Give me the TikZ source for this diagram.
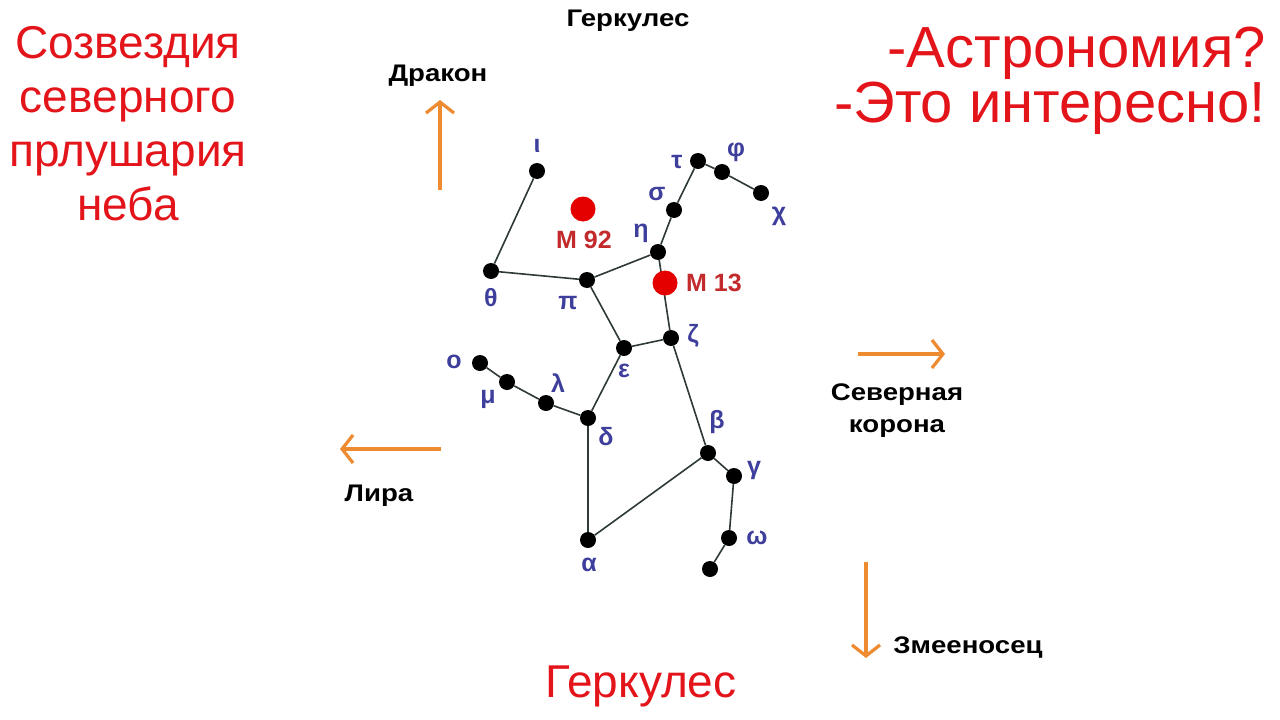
\documentclass[tikz,border=0pt]{standalone}
\usepackage{fontspec}
\usepackage{graphicx}
\setmainfont{Liberation Sans}
\usetikzlibrary{arrows.meta}
\definecolor{txtred}{HTML}{E3151B}
\definecolor{mred}{HTML}{C22A2C}
\definecolor{greek}{HTML}{3E3E9C}
\definecolor{orng}{HTML}{EE8A30}
\definecolor{edgec}{HTML}{2E3A34}
\newcommand\wx[1]{\scalebox{1.15}[1]{#1}}
\tikzset{
  star/.style={circle,fill=black,inner sep=0pt,minimum size=16pt},
  cluster/.style={circle,fill=red!90!black,inner sep=0pt,minimum size=25pt},
  glabel/.style={text=greek,font=\fontsize{25}{27}\selectfont\bfseries,inner sep=0pt},
  mlabel/.style={text=mred,font=\fontsize{25}{27}\selectfont\bfseries,inner sep=0pt},
  blabel/.style={text=black,font=\fontsize{24}{32}\selectfont\bfseries,inner sep=0pt,align=center},
  bigred/.style={text=txtred,font=\fontsize{46}{54}\selectfont,inner sep=0pt,align=center},
  link/.style={draw=edgec,line width=1.6pt},
  dirarrow/.style={draw=orng,line width=3.2pt,-{Straight Barb[length=11pt,width=28pt,line width=3.2pt]}}
}
\begin{document}
\begin{tikzpicture}[x=1pt,y=-1pt]
\fill[white] (0,0) rectangle (1280,720);
\useasboundingbox (0,0) rectangle (1280,720);

% stars
\node[star] (iota) at (537,171) {};
\node[star] (theta) at (491,271) {};
\node[star] (pi) at (587,280) {};
\node[star] (eta) at (658,252) {};
\node[star] (sigma) at (674,210) {};
\node[star] (tau) at (698,161) {};
\node[star] (phi) at (722,172) {};
\node[star] (chi) at (761,193) {};
\node[star] (zeta) at (671,338) {};
\node[star] (eps) at (624,348) {};
\node[star] (delta) at (588,418) {};
\node[star] (lambda) at (546,403) {};
\node[star] (mu) at (507,382) {};
\node[star] (omicron) at (480,363) {};
\node[star] (beta) at (708,453) {};
\node[star] (gamma) at (734,476) {};
\node[star] (omega) at (729,538) {};
\node[star] (last) at (710,569) {};
\node[star] (alpha) at (588,540) {};

% connections
\draw[link] (iota) -- (theta);
\draw[link] (theta) -- (pi);
\draw[link] (pi) -- (eta);
\draw[link] (eta) -- (sigma);
\draw[link] (sigma) -- (tau);
\draw[link] (tau) -- (phi);
\draw[link] (phi) -- (chi);
\draw[link] (eta) -- (zeta);
\draw[link] (zeta) -- (eps);
\draw[link] (pi) -- (eps);
\draw[link] (eps) -- (delta);
\draw[link] (delta) -- (lambda);
\draw[link] (lambda) -- (mu);
\draw[link] (mu) -- (omicron);
\draw[link] (delta) -- (alpha);
\draw[link] (alpha) -- (beta);
\draw[link] (zeta) -- (beta);
\draw[link] (beta) -- (gamma);
\draw[link] (gamma) -- (omega);
\draw[link] (omega) -- (last);

% clusters
\node[cluster] (m92) at (583,209) {};
\node[cluster] (m13) at (665,283) {};
\node[mlabel] (m92l) at (584,240) {M 92};
\node[mlabel] (m13l) at (714,283) {M 13};

% greek labels
\node[glabel] (liota) at (537,146) {ι};
\node[glabel] (ltheta) at (491,298) {θ};
\node[glabel] (lpi) at (568,303) {π};
\node[glabel] (leta) at (641,233) {η};
\node[glabel] (lsigma) at (657,194) {σ};
\node[glabel] (ltau) at (677,162) {τ};
\node[glabel] (lphi) at (736,152) {φ};
\node[glabel] (lchi) at (779,216) {χ};
\node[glabel] (lzeta) at (693,336) {ζ};
\node[glabel] (leps) at (624,371) {ε};
\node[glabel] (lomicron) at (454,362) {ο};
\node[glabel] (lmu) at (488,399) {μ};
\node[glabel] (llambda) at (558,383) {λ};
\node[glabel] (ldelta) at (606,437) {δ};
\node[glabel] (lbeta) at (717,422) {β};
\node[glabel] (lgamma) at (754,470) {γ};
\node[glabel] (lomega) at (757,538) {ω};
\node[glabel] (lalpha) at (589,565) {α};

% neighbour constellations
\node[blabel] (herc) at (628,21) {\wx{Геркулес}};
\node[blabel] (draco) at (438,76) {\wx{Дракон}};
\node[blabel] (crown) at (897,411) {\wx{Северная}\\\wx{корона}};
\node[blabel] (lyra) at (379,496) {\wx{Лира}};
\node[blabel] (oph) at (968,648) {\wx{Змееносец}};

\coordinate (dA) at (440,190);
\coordinate (dB) at (440,100);
\coordinate (cA) at (858,354);
\coordinate (cB) at (945,354);
\coordinate (lA) at (441,449);
\coordinate (lB) at (340,449);
\coordinate (oA) at (866,562);
\coordinate (oB) at (866,658);
\draw[dirarrow] (dA) -- (dB);
\draw[dirarrow] (cA) -- (cB);
\draw[dirarrow] (lA) -- (lB);
\draw[dirarrow] (oA) -- (oB);

% titles
\node[bigred] (title) at (128,124) {Созвездия\\северного\\прлушария\\неба};
\node[bigred,font=\fontsize{58}{60}\selectfont,anchor=base east] (astro1) at (1266,67) {-Астрономия?};
\node[bigred,font=\fontsize{58}{60}\selectfont,anchor=base east] (astro2) at (1266,122) {-Это интересно!};
\node[bigred,font=\fontsize{46}{50}\selectfont] (hercbig) at (641,686) {Геркулес};
\end{tikzpicture}
\end{document}
